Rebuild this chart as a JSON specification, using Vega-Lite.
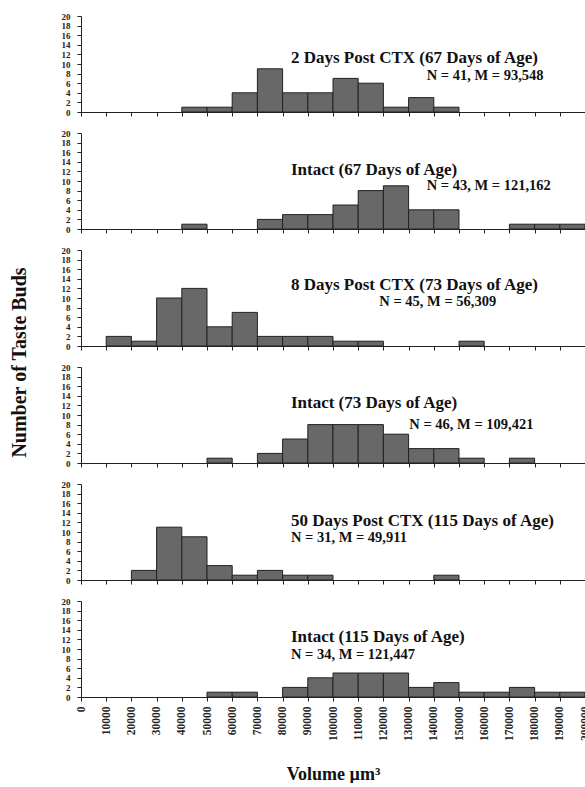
{
  "$schema": "https://vega.github.io/schema/vega-lite/v6.json",
  "background": "white",
  "padding": {"left": 8, "top": 12, "right": 0, "bottom": 0},
  "bounds": "flush",
  "spacing": 21,
  "config": {
    "view": {"stroke": null},
    "font": "Liberation Serif",
    "axis": {
      "grid": false,
      "domainColor": "#222",
      "tickColor": "#222",
      "labelColor": "#222",
      "titleColor": "#111",
      "labelFont": "Liberation Serif",
      "titleFont": "Liberation Serif",
      "labelFontWeight": "bold",
      "titleFontWeight": "bold",
      "labelOverlap": false,
      "labelBound": false,
      "labelFlush": false,
      "tickSize": 4
    },
    "text": {"font": "Liberation Serif", "fontWeight": "bold", "color": "#111", "align": "left", "baseline": "middle"},
    "bar": {"fill": "#686868", "stroke": "#222", "strokeWidth": 1}
  },
  "datasets": {
    "bins": [
      {"panel": "A", "bin_start": 40000, "bin_end": 50000, "count": 1},
      {"panel": "A", "bin_start": 50000, "bin_end": 60000, "count": 1},
      {"panel": "A", "bin_start": 60000, "bin_end": 70000, "count": 4},
      {"panel": "A", "bin_start": 70000, "bin_end": 80000, "count": 9},
      {"panel": "A", "bin_start": 80000, "bin_end": 90000, "count": 4},
      {"panel": "A", "bin_start": 90000, "bin_end": 100000, "count": 4},
      {"panel": "A", "bin_start": 100000, "bin_end": 110000, "count": 7},
      {"panel": "A", "bin_start": 110000, "bin_end": 120000, "count": 6},
      {"panel": "A", "bin_start": 120000, "bin_end": 130000, "count": 1},
      {"panel": "A", "bin_start": 130000, "bin_end": 140000, "count": 3},
      {"panel": "A", "bin_start": 140000, "bin_end": 150000, "count": 1},
      {"panel": "B", "bin_start": 40000, "bin_end": 50000, "count": 1},
      {"panel": "B", "bin_start": 70000, "bin_end": 80000, "count": 2},
      {"panel": "B", "bin_start": 80000, "bin_end": 90000, "count": 3},
      {"panel": "B", "bin_start": 90000, "bin_end": 100000, "count": 3},
      {"panel": "B", "bin_start": 100000, "bin_end": 110000, "count": 5},
      {"panel": "B", "bin_start": 110000, "bin_end": 120000, "count": 8},
      {"panel": "B", "bin_start": 120000, "bin_end": 130000, "count": 9},
      {"panel": "B", "bin_start": 130000, "bin_end": 140000, "count": 4},
      {"panel": "B", "bin_start": 140000, "bin_end": 150000, "count": 4},
      {"panel": "B", "bin_start": 170000, "bin_end": 180000, "count": 1},
      {"panel": "B", "bin_start": 180000, "bin_end": 190000, "count": 1},
      {"panel": "B", "bin_start": 190000, "bin_end": 200000, "count": 1},
      {"panel": "C", "bin_start": 10000, "bin_end": 20000, "count": 2},
      {"panel": "C", "bin_start": 20000, "bin_end": 30000, "count": 1},
      {"panel": "C", "bin_start": 30000, "bin_end": 40000, "count": 10},
      {"panel": "C", "bin_start": 40000, "bin_end": 50000, "count": 12},
      {"panel": "C", "bin_start": 50000, "bin_end": 60000, "count": 4},
      {"panel": "C", "bin_start": 60000, "bin_end": 70000, "count": 7},
      {"panel": "C", "bin_start": 70000, "bin_end": 80000, "count": 2},
      {"panel": "C", "bin_start": 80000, "bin_end": 90000, "count": 2},
      {"panel": "C", "bin_start": 90000, "bin_end": 100000, "count": 2},
      {"panel": "C", "bin_start": 100000, "bin_end": 110000, "count": 1},
      {"panel": "C", "bin_start": 110000, "bin_end": 120000, "count": 1},
      {"panel": "C", "bin_start": 150000, "bin_end": 160000, "count": 1},
      {"panel": "D", "bin_start": 50000, "bin_end": 60000, "count": 1},
      {"panel": "D", "bin_start": 70000, "bin_end": 80000, "count": 2},
      {"panel": "D", "bin_start": 80000, "bin_end": 90000, "count": 5},
      {"panel": "D", "bin_start": 90000, "bin_end": 100000, "count": 8},
      {"panel": "D", "bin_start": 100000, "bin_end": 110000, "count": 8},
      {"panel": "D", "bin_start": 110000, "bin_end": 120000, "count": 8},
      {"panel": "D", "bin_start": 120000, "bin_end": 130000, "count": 6},
      {"panel": "D", "bin_start": 130000, "bin_end": 140000, "count": 3},
      {"panel": "D", "bin_start": 140000, "bin_end": 150000, "count": 3},
      {"panel": "D", "bin_start": 150000, "bin_end": 160000, "count": 1},
      {"panel": "D", "bin_start": 170000, "bin_end": 180000, "count": 1},
      {"panel": "E", "bin_start": 20000, "bin_end": 30000, "count": 2},
      {"panel": "E", "bin_start": 30000, "bin_end": 40000, "count": 11},
      {"panel": "E", "bin_start": 40000, "bin_end": 50000, "count": 9},
      {"panel": "E", "bin_start": 50000, "bin_end": 60000, "count": 3},
      {"panel": "E", "bin_start": 60000, "bin_end": 70000, "count": 1},
      {"panel": "E", "bin_start": 70000, "bin_end": 80000, "count": 2},
      {"panel": "E", "bin_start": 80000, "bin_end": 90000, "count": 1},
      {"panel": "E", "bin_start": 90000, "bin_end": 100000, "count": 1},
      {"panel": "E", "bin_start": 140000, "bin_end": 150000, "count": 1},
      {"panel": "F", "bin_start": 50000, "bin_end": 60000, "count": 1},
      {"panel": "F", "bin_start": 60000, "bin_end": 70000, "count": 1},
      {"panel": "F", "bin_start": 80000, "bin_end": 90000, "count": 2},
      {"panel": "F", "bin_start": 90000, "bin_end": 100000, "count": 4},
      {"panel": "F", "bin_start": 100000, "bin_end": 110000, "count": 5},
      {"panel": "F", "bin_start": 110000, "bin_end": 120000, "count": 5},
      {"panel": "F", "bin_start": 120000, "bin_end": 130000, "count": 5},
      {"panel": "F", "bin_start": 130000, "bin_end": 140000, "count": 2},
      {"panel": "F", "bin_start": 140000, "bin_end": 150000, "count": 3},
      {"panel": "F", "bin_start": 150000, "bin_end": 160000, "count": 1},
      {"panel": "F", "bin_start": 160000, "bin_end": 170000, "count": 1},
      {"panel": "F", "bin_start": 170000, "bin_end": 180000, "count": 2},
      {"panel": "F", "bin_start": 180000, "bin_end": 190000, "count": 1},
      {"panel": "F", "bin_start": 190000, "bin_end": 200000, "count": 1}
    ],
    "labels": [
      {"panel": "A", "title": "2 Days Post CTX (67 Days of Age)", "stats": "N = 41, M = 93,548"},
      {"panel": "B", "title": "Intact (67 Days of Age)", "stats": "N = 43, M = 121,162"},
      {"panel": "C", "title": "8 Days Post CTX  (73 Days of Age)", "stats": "N = 45, M = 56,309"},
      {"panel": "D", "title": "Intact  (73 Days of Age)", "stats": "N = 46, M = 109,421"},
      {"panel": "E", "title": "50 Days Post CTX  (115 Days of Age)", "stats": "N = 31, M = 49,911"},
      {"panel": "F", "title": "Intact  (115 Days of Age)", "stats": "N = 34, M = 121,447"}
    ]
  },
  "vconcat": [
    {
      "width": 504, "height": 96,
      "layer": [
        {"data": {"name": "bins"}, "transform": [{"filter": "datum.panel === 'A'"}], "mark": {"type": "bar"},
         "encoding": {
           "x": {"field": "bin_start", "type": "quantitative", "scale": {"domain": [0, 200000], "nice": false}, "axis": {"values": [0,10000,20000,30000,40000,50000,60000,70000,80000,90000,100000,110000,120000,130000,140000,150000,160000,170000,180000,190000,200000], "tickCount": 40, "labels": false, "labelOverlap": false, "title": null}},
           "x2": {"field": "bin_end"},
           "y": {"field": "count", "type": "quantitative", "scale": {"domain": [0, 20], "nice": false, "zero": true}, "axis": {"values": [0,2,4,6,8,10,12,14,16,18,20], "tickCount": 40, "format": "d", "labelOverlap": false, "labelFontSize": 9, "labelPadding": 7, "title": null}},
           "y2": {"datum": 0}
         }},
        {"data": {"name": "labels"}, "transform": [{"filter": "datum.panel === 'A'"}], "mark": {"type": "text", "fontSize": 17},
         "encoding": {"x": {"datum": 83300, "type": "quantitative"}, "y": {"datum": 11.2, "type": "quantitative"}, "text": {"field": "title"}}},
        {"data": {"name": "labels"}, "transform": [{"filter": "datum.panel === 'A'"}], "mark": {"type": "text", "fontSize": 14.5},
         "encoding": {"x": {"datum": 137200, "type": "quantitative"}, "y": {"datum": 7.6, "type": "quantitative"}, "text": {"field": "stats"}}}
      ]
    },
    {
      "width": 504, "height": 96,
      "layer": [
        {"data": {"name": "bins"}, "transform": [{"filter": "datum.panel === 'B'"}], "mark": {"type": "bar"},
         "encoding": {
           "x": {"field": "bin_start", "type": "quantitative", "scale": {"domain": [0, 200000], "nice": false}, "axis": {"values": [0,10000,20000,30000,40000,50000,60000,70000,80000,90000,100000,110000,120000,130000,140000,150000,160000,170000,180000,190000,200000], "tickCount": 40, "labels": false, "labelOverlap": false, "title": null}},
           "x2": {"field": "bin_end"},
           "y": {"field": "count", "type": "quantitative", "scale": {"domain": [0, 20], "nice": false, "zero": true}, "axis": {"values": [0,2,4,6,8,10,12,14,16,18,20], "tickCount": 40, "format": "d", "labelOverlap": false, "labelFontSize": 9, "labelPadding": 7, "title": null}},
           "y2": {"datum": 0}
         }},
        {"data": {"name": "labels"}, "transform": [{"filter": "datum.panel === 'B'"}], "mark": {"type": "text", "fontSize": 17},
         "encoding": {"x": {"datum": 83300, "type": "quantitative"}, "y": {"datum": 12.2, "type": "quantitative"}, "text": {"field": "title"}}},
        {"data": {"name": "labels"}, "transform": [{"filter": "datum.panel === 'B'"}], "mark": {"type": "text", "fontSize": 14.5},
         "encoding": {"x": {"datum": 137200, "type": "quantitative"}, "y": {"datum": 9.0, "type": "quantitative"}, "text": {"field": "stats"}}}
      ]
    },
    {
      "width": 504, "height": 96,
      "layer": [
        {"data": {"name": "bins"}, "transform": [{"filter": "datum.panel === 'C'"}], "mark": {"type": "bar"},
         "encoding": {
           "x": {"field": "bin_start", "type": "quantitative", "scale": {"domain": [0, 200000], "nice": false}, "axis": {"values": [0,10000,20000,30000,40000,50000,60000,70000,80000,90000,100000,110000,120000,130000,140000,150000,160000,170000,180000,190000,200000], "tickCount": 40, "labels": false, "labelOverlap": false, "title": null}},
           "x2": {"field": "bin_end"},
           "y": {"field": "count", "type": "quantitative", "scale": {"domain": [0, 20], "nice": false, "zero": true}, "axis": {"values": [0,2,4,6,8,10,12,14,16,18,20], "tickCount": 40, "format": "d", "labelOverlap": false, "labelFontSize": 9, "labelPadding": 7, "title": "Number of Taste Buds", "titleFontSize": 20, "titleX": -56, "titleY": 112, "titleAngle": -90, "titleBaseline": "alphabetic", "titleAlign": "center"}},
           "y2": {"datum": 0}
         }},
        {"data": {"name": "labels"}, "transform": [{"filter": "datum.panel === 'C'"}], "mark": {"type": "text", "fontSize": 17},
         "encoding": {"x": {"datum": 83300, "type": "quantitative"}, "y": {"datum": 12.7, "type": "quantitative"}, "text": {"field": "title"}}},
        {"data": {"name": "labels"}, "transform": [{"filter": "datum.panel === 'C'"}], "mark": {"type": "text", "fontSize": 14.5},
         "encoding": {"x": {"datum": 118400, "type": "quantitative"}, "y": {"datum": 9.2, "type": "quantitative"}, "text": {"field": "stats"}}}
      ]
    },
    {
      "width": 504, "height": 96,
      "layer": [
        {"data": {"name": "bins"}, "transform": [{"filter": "datum.panel === 'D'"}], "mark": {"type": "bar"},
         "encoding": {
           "x": {"field": "bin_start", "type": "quantitative", "scale": {"domain": [0, 200000], "nice": false}, "axis": {"values": [0,10000,20000,30000,40000,50000,60000,70000,80000,90000,100000,110000,120000,130000,140000,150000,160000,170000,180000,190000,200000], "tickCount": 40, "labels": false, "labelOverlap": false, "title": null}},
           "x2": {"field": "bin_end"},
           "y": {"field": "count", "type": "quantitative", "scale": {"domain": [0, 20], "nice": false, "zero": true}, "axis": {"values": [0,2,4,6,8,10,12,14,16,18,20], "tickCount": 40, "format": "d", "labelOverlap": false, "labelFontSize": 9, "labelPadding": 7, "title": null}},
           "y2": {"datum": 0}
         }},
        {"data": {"name": "labels"}, "transform": [{"filter": "datum.panel === 'D'"}], "mark": {"type": "text", "fontSize": 17},
         "encoding": {"x": {"datum": 83300, "type": "quantitative"}, "y": {"datum": 12.4, "type": "quantitative"}, "text": {"field": "title"}}},
        {"data": {"name": "labels"}, "transform": [{"filter": "datum.panel === 'D'"}], "mark": {"type": "text", "fontSize": 14.5},
         "encoding": {"x": {"datum": 130300, "type": "quantitative"}, "y": {"datum": 8.0, "type": "quantitative"}, "text": {"field": "stats"}}}
      ]
    },
    {
      "width": 504, "height": 96,
      "layer": [
        {"data": {"name": "bins"}, "transform": [{"filter": "datum.panel === 'E'"}], "mark": {"type": "bar"},
         "encoding": {
           "x": {"field": "bin_start", "type": "quantitative", "scale": {"domain": [0, 200000], "nice": false}, "axis": {"values": [0,10000,20000,30000,40000,50000,60000,70000,80000,90000,100000,110000,120000,130000,140000,150000,160000,170000,180000,190000,200000], "tickCount": 40, "labels": false, "labelOverlap": false, "title": null}},
           "x2": {"field": "bin_end"},
           "y": {"field": "count", "type": "quantitative", "scale": {"domain": [0, 20], "nice": false, "zero": true}, "axis": {"values": [0,2,4,6,8,10,12,14,16,18,20], "tickCount": 40, "format": "d", "labelOverlap": false, "labelFontSize": 9, "labelPadding": 7, "title": null}},
           "y2": {"datum": 0}
         }},
        {"data": {"name": "labels"}, "transform": [{"filter": "datum.panel === 'E'"}], "mark": {"type": "text", "fontSize": 17},
         "encoding": {"x": {"datum": 83300, "type": "quantitative"}, "y": {"datum": 12.2, "type": "quantitative"}, "text": {"field": "title"}}},
        {"data": {"name": "labels"}, "transform": [{"filter": "datum.panel === 'E'"}], "mark": {"type": "text", "fontSize": 14.5},
         "encoding": {"x": {"datum": 83300, "type": "quantitative"}, "y": {"datum": 8.7, "type": "quantitative"}, "text": {"field": "stats"}}}
      ]
    },
    {
      "width": 504, "height": 96,
      "layer": [
        {"data": {"name": "bins"}, "transform": [{"filter": "datum.panel === 'F'"}], "mark": {"type": "bar"},
         "encoding": {
           "x": {"field": "bin_start", "type": "quantitative", "scale": {"domain": [0, 200000], "nice": false}, "axis": {"values": [0,10000,20000,30000,40000,50000,60000,70000,80000,90000,100000,110000,120000,130000,140000,150000,160000,170000,180000,190000,200000], "tickCount": 40, "labelOverlap": false, "format": "d", "labelAngle": -90, "labelFontSize": 11.5, "labelPadding": 5, "title": "Volume µm³", "titleFontSize": 18, "titleY": 82, "titleBaseline": "alphabetic"}},
           "x2": {"field": "bin_end"},
           "y": {"field": "count", "type": "quantitative", "scale": {"domain": [0, 20], "nice": false, "zero": true}, "axis": {"values": [0,2,4,6,8,10,12,14,16,18,20], "tickCount": 40, "format": "d", "labelOverlap": false, "labelFontSize": 9, "labelPadding": 7, "title": null}},
           "y2": {"datum": 0}
         }},
        {"data": {"name": "labels"}, "transform": [{"filter": "datum.panel === 'F'"}], "mark": {"type": "text", "fontSize": 17},
         "encoding": {"x": {"datum": 83300, "type": "quantitative"}, "y": {"datum": 12.6, "type": "quantitative"}, "text": {"field": "title"}}},
        {"data": {"name": "labels"}, "transform": [{"filter": "datum.panel === 'F'"}], "mark": {"type": "text", "fontSize": 14.5},
         "encoding": {"x": {"datum": 83300, "type": "quantitative"}, "y": {"datum": 8.8, "type": "quantitative"}, "text": {"field": "stats"}}}
      ]
    }
  ]
}
